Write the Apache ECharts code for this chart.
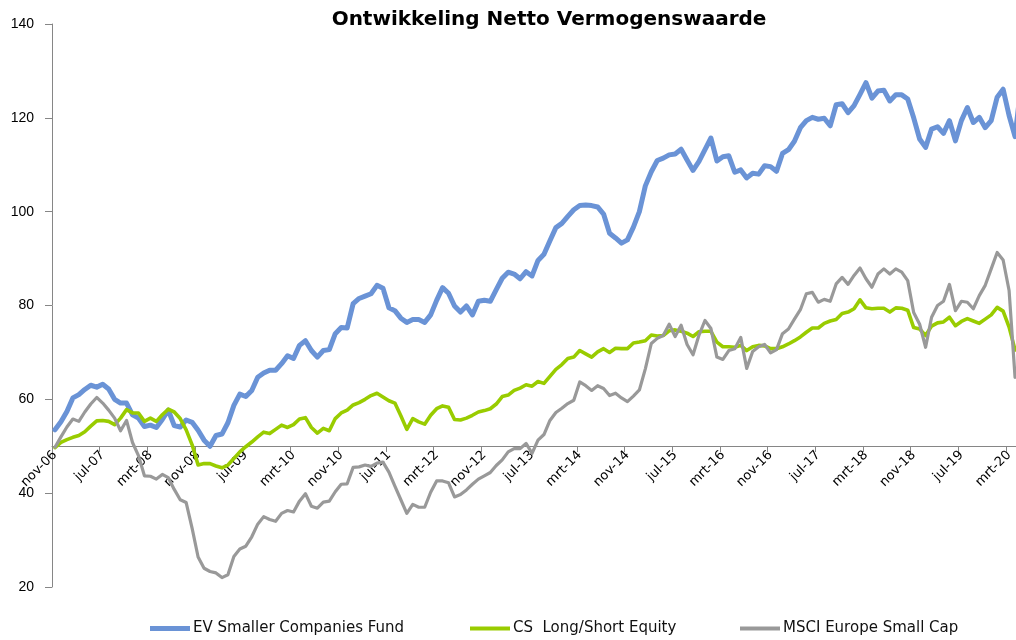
<!DOCTYPE html>
<html><head><meta charset="utf-8">
<script src="https://cdn.jsdelivr.net/npm/echarts@6/dist/echarts.min.js"></script>
<style>html,body{margin:0;padding:0;background:#fff}#c{width:1016px;height:640px}</style>
</head><body><div id="c"></div>
<script>
const TITLE = 'Ontwikkeling Netto Vermogenswaarde';
const MONTHS = ['jan','feb','mrt','apr','mei','jun','jul','aug','sep','okt','nov','dec'];
const START_MONTH = 10, START_YEAR = 6, N_MONTHS = 163;
const categories = [];
for (let k = 0; k < N_MONTHS; k++) {
  const m = (START_MONTH + k) % 12;
  const y = START_YEAR + Math.floor((START_MONTH + k) / 12);
  categories.push(MONTHS[m] + '-' + String(y).padStart(2, '0'));
}
const seriesNames = ['EV Smaller Companies Fund', 'CS  Long/Short Equity', 'MSCI Europe Small Cap'];
const evFund = [
 53.5,55.2,57.4,60.3,61.0,62.1,63.0,62.6,63.2,62.2,
 60.0,59.2,59.2,56.7,56.0,54.2,54.5,54.0,55.7,57.7,
 54.4,54.1,55.6,55.1,53.4,51.3,50.0,52.3,52.6,55.0,
 58.7,61.1,60.6,61.9,64.7,65.6,66.2,66.2,67.6,69.3,
 68.7,71.5,72.5,70.4,69.0,70.4,70.6,74.0,75.3,75.2,
 80.4,81.5,82.0,82.5,84.3,83.7,79.5,78.9,77.3,76.4,
 77.0,77.0,76.4,78.0,81.1,83.8,82.6,79.9,78.6,79.9,
 78.0,80.9,81.1,80.9,83.4,85.8,87.1,86.7,85.7,87.2,
 86.3,89.6,90.9,93.8,96.6,97.5,99.0,100.4,101.3,101.4,
 101.3,101.0,99.5,95.4,94.4,93.3,94.0,96.7,100.0,105.5,
 108.5,110.9,111.4,112.1,112.3,113.3,111.0,108.8,110.7,113.2,
 115.7,110.8,111.7,111.9,108.4,108.9,107.2,108.2,108.0,109.8,
 109.6,108.6,112.4,113.2,115.0,117.9,119.4,120.1,119.7,119.9,
 118.3,122.8,123.0,121.1,122.6,125.0,127.5,124.2,125.7,125.9,
 123.6,124.9,124.9,124.0,120.0,115.5,113.7,117.6,118.1,116.7,
 119.4,115.1,119.4,122.2,119.0,120.1,117.9,119.4,124.4,126.1,
 120.5,116.0,127.0
];
const csLongShort = [
 49.7,50.8,51.4,51.9,52.3,53.1,54.3,55.4,55.5,55.3,
 54.6,56.0,57.8,57.1,57.1,55.3,56.0,55.3,56.7,57.9,
 57.3,55.9,53.5,50.3,46.0,46.3,46.3,45.8,45.4,46.0,
 47.4,48.8,49.9,50.9,52.0,53.0,52.7,53.6,54.5,54.0,
 54.6,55.8,56.1,54.0,52.8,53.8,53.3,55.9,57.1,57.7,
 58.8,59.3,60.0,60.8,61.3,60.5,59.7,59.2,56.5,53.6,
 55.9,55.2,54.7,56.6,58.0,58.6,58.3,55.7,55.6,56.0,
 56.6,57.3,57.6,58.0,59.0,60.6,60.9,61.9,62.4,63.1,
 62.8,63.8,63.4,64.9,66.4,67.4,68.7,69.0,70.4,69.7,
 69.0,70.1,70.8,70.0,70.9,70.8,70.8,72.0,72.2,72.5,
 73.7,73.5,73.6,74.6,74.8,74.5,74.1,73.4,74.4,74.5,
 74.5,72.2,71.2,71.2,71.1,71.5,70.4,71.2,71.5,71.4,
 70.8,70.8,71.2,71.8,72.5,73.3,74.3,75.2,75.2,76.2,
 76.7,77.0,78.3,78.6,79.3,81.2,79.5,79.3,79.4,79.4,
 78.6,79.5,79.4,79.0,75.3,75.0,73.6,75.6,76.3,76.5,
 77.5,75.7,76.6,77.2,76.7,76.2,77.1,78.0,79.6,78.8,
 75.4,70.5,72.0
];
const msciSmallCap = [
 49.8,52.0,54.1,55.8,55.3,57.3,59.0,60.4,59.2,57.7,
 56.0,53.3,55.5,50.8,48.0,43.7,43.6,43.0,44.0,43.3,
 40.8,38.6,38.0,32.5,26.4,24.0,23.3,23.0,22.0,22.6,
 26.5,28.1,28.7,30.7,33.4,35.0,34.4,34.0,35.7,36.3,
 36.0,38.3,39.9,37.2,36.8,38.1,38.3,40.3,41.9,42.0,
 45.5,45.6,46.0,45.7,46.4,46.6,44.5,41.5,38.6,35.7,
 37.6,37.0,37.0,40.2,42.6,42.6,42.2,39.2,39.7,40.7,
 41.9,43.0,43.7,44.4,45.9,47.1,48.8,49.5,49.5,50.6,
 48.5,51.3,52.5,55.5,57.2,58.1,59.1,59.8,63.7,62.9,
 61.9,62.9,62.3,60.8,61.3,60.3,59.5,60.7,62.0,66.5,
 71.9,73.0,73.6,76.0,73.4,75.8,71.7,69.5,73.7,76.8,
 75.1,69.0,68.5,70.4,70.8,73.2,66.6,70.2,71.2,71.7,
 69.9,70.6,74.0,75.0,77.1,79.1,82.5,82.8,80.7,81.3,
 80.9,84.6,86.0,84.5,86.4,88.0,85.7,83.9,86.7,87.8,
 86.7,87.8,87.1,85.3,78.5,76.0,71.1,77.5,80.0,80.9,
 84.5,78.9,80.9,80.7,79.3,82.1,84.3,87.8,91.3,89.7,
 83.2,64.7,70.0
];
const yTicks = {min: 20, max: 140, step: 20};

const COLORS = ['#6a93d6', '#99cc00', '#999999'];
const WIDTHS = [5, 3.6, 3.2];
const AXIS_COLOR = '#868686';
const FONT = '"DejaVu Sans", sans-serif';

const chart = echarts.init(document.getElementById('c'), null, {renderer: 'canvas'});
const values = [evFund, csLongShort, msciSmallCap];
const legendLeft = [150, 470, 740];
chart.setOption({
  animation: false,
  backgroundColor: '#ffffff',
  graphic: [{
    type: 'text', x: 549, y: 20,
    style: {text: TITLE, font: 'bold 20px "DejaVu Sans"', fill: '#000', textAlign: 'center', textVerticalAlign: 'middle'}
  }],
  grid: {left: 52, top: 24, bottom: 53, right: -8, containLabel: false, outerBoundsMode: 'none'},
  xAxis: {
    type: 'category', data: categories, boundaryGap: true, offset: -141,
    axisLine: {show: true, lineStyle: {color: AXIS_COLOR, width: 1}},
    axisTick: {show: true, interval: 7, length: 6, lineStyle: {color: AXIS_COLOR}},
    axisLabel: {interval: 7, rotate: 45, fontFamily: FONT, fontSize: 13, color: '#000', margin: 7, hideOverlap: false},
    splitLine: {show: false}
  },
  yAxis: {
    type: 'value', min: yTicks.min, max: yTicks.max, interval: yTicks.step,
    splitLine: {show: false},
    axisLine: {show: true, lineStyle: {color: AXIS_COLOR, width: 1}},
    axisTick: {show: true, length: 7, lineStyle: {color: AXIS_COLOR}},
    axisLabel: {fontFamily: '"Liberation Sans", Arial, sans-serif', fontSize: 14, color: '#000', margin: 18}
  },
  legend: seriesNames.map((n, i) => ({
    data: [n], left: legendLeft[i], top: 621, icon: 'rect', itemWidth: 40, itemHeight: i === 0 ? 5 : 4,
    itemGap: 0, padding: 0,
    textStyle: {fontFamily: FONT, fontSize: 15, color: '#111', padding: [0, 0, 0, -2]}
  })),
  series: seriesNames.map((n, i) => ({
    name: n, type: 'line', data: values[i], showSymbol: false, symbol: 'none', smooth: false,
    color: COLORS[i],
    lineStyle: {color: COLORS[i], width: WIDTHS[i], cap: 'round', join: 'round'},
    emphasis: {disabled: true}
  }))
});
</script></body></html>
